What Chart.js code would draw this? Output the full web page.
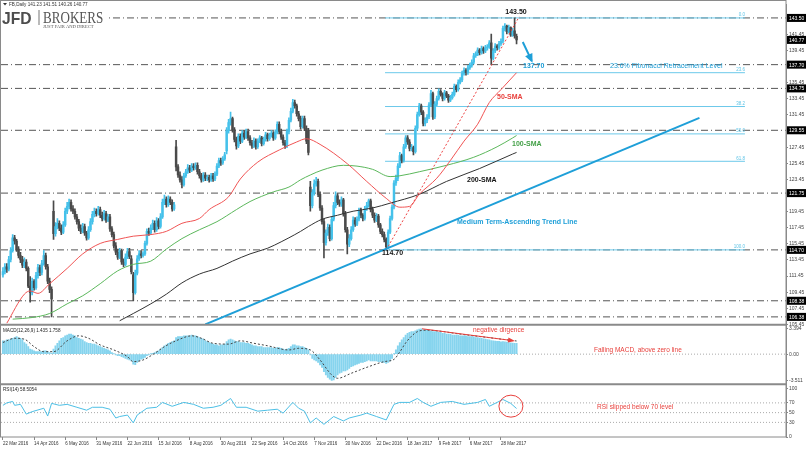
<!DOCTYPE html>
<html>
<head>
<meta charset="utf-8">
<script src="https://cdn.jsdelivr.net/npm/chart.js@4.4.1/dist/chart.umd.min.js"></script>
<style>
  html, body { margin: 0; padding: 0; background: #fff; }
  canvas { display: block; }
</style>
</head>
<body>
<canvas id="chart" width="806" height="450"></canvas>
<script>
// FB daily bars, index 0 = 22 Mar 2016 ... 264 = 7 Apr 2017
const dateLabels = ['22 Mar 2016', '14 Apr 2016', '6 May 2016', '31 May 2016', '22 Jun 2016', '15 Jul 2016',
  '8 Aug 2016', '30 Aug 2016', '22 Sep 2016', '14 Oct 2016', '7 Nov 2016', '30 Nov 2016', '22 Dec 2016',
  '18 Jan 2017', '9 Feb 2017', '6 Mar 2017', '28 Mar 2017'];

const opens = [
  111.6,112.0,112.6,112.3,113.5,114.6,116.2,115.8,114.8,114.0,
  113.5,112.8,113.2,112.4,110.2,109.4,110.8,110.0,111.5,112.5,
  111.9,113.0,114.0,112.6,110.8,109.8,119.5,116.7,117.6,118.0,
  117.4,116.9,117.8,119.5,120.1,120.6,119.8,119.5,118.8,118.2,
  117.4,117.0,117.6,116.8,116.2,117.2,118.2,119.1,119.5,119.2,
  119.7,119.0,118.6,119.2,118.4,118.8,117.3,116.6,115.2,114.4,
  113.8,114.6,113.2,112.9,113.8,114.5,113.6,111.6,109.4,111.8,
  113.6,114.2,114.0,114.2,115.5,117.0,116.8,117.4,118.0,117.2,
  118.3,117.6,118.8,120.6,121.0,120.3,121.0,120.6,119.8,127.5,
  125.0,124.0,123.4,122.8,123.9,124.4,124.9,124.6,125.1,124.9,
  125.2,124.4,123.9,123.4,124.0,123.6,123.7,123.4,123.9,123.5,
  124.1,125.1,125.8,125.5,126.0,127.0,129.5,130.5,131.0,129.6,
  128.4,127.6,128.8,128.2,129.2,128.7,129.4,128.6,128.0,127.6,
  128.2,127.5,128.2,128.6,127.9,128.4,129.0,128.5,128.9,129.2,
  128.6,129.3,130.3,129.4,128.7,128.0,127.7,129.4,130.8,131.9,
  133.0,132.6,131.6,131.0,130.0,131.0,129.8,129.5,122.5,120.2,
  121.8,122.9,123.2,121.6,119.9,118.2,115.6,116.8,117.5,116.1,
  118.5,120.2,121.4,120.6,120.4,120.9,119.2,117.2,115.4,116.1,
  117.2,118.4,117.9,118.5,119.6,119.0,118.6,119.8,120.2,120.8,
  119.7,119.0,118.4,118.9,117.8,117.0,116.6,116.0,115.1,116.9,
  118.6,120.0,123.0,123.6,125.1,126.4,125.8,127.5,128.6,128.1,
  127.3,127.4,126.9,129.8,131.5,132.6,131.8,130.4,130.8,131.2,
  132.7,134.1,131.2,132.8,133.5,134.4,134.0,133.5,134.2,133.8,
  133.3,133.6,134.0,135.0,134.6,135.5,135.8,136.6,137.0,136.7,
  137.3,137.6,138.0,138.8,139.0,139.5,139.2,139.7,139.4,139.8,
  139.9,140.4,138.5,139.4,140.0,139.8,140.3,140.6,142.2,142.5,
  141.8,142.3,141.4,141.9,141.23
];
const highs = [
  112.5,113.0,113.0,113.9,115.0,116.6,116.5,116.0,115.1,114.4,
  113.9,113.7,113.5,112.6,111.4,111.2,111.0,111.9,112.9,112.8,
  113.4,114.6,114.3,112.9,111.2,110.1,120.8,118.1,118.6,118.3,
  117.8,118.2,119.9,120.6,121.0,120.9,120.2,119.8,119.1,118.5,
  117.8,118.0,117.9,117.0,117.6,118.6,119.5,119.9,119.8,120.1,
  120.0,119.4,119.6,119.5,119.1,119.1,117.6,116.9,115.6,114.8,
  114.9,114.8,113.6,114.2,114.9,114.9,114.0,111.9,112.2,114.0,
  114.6,114.6,114.5,115.8,117.3,117.4,117.8,118.4,118.3,118.7,
  118.6,119.2,121.0,121.5,121.3,121.4,121.3,120.9,120.6,128.3,
  125.3,124.4,123.8,124.2,124.7,125.3,125.2,125.4,125.4,125.5,
  125.5,124.7,124.2,124.3,124.3,124.0,124.0,124.2,124.2,124.4,
  125.4,126.1,126.1,126.3,126.8,129.9,130.9,131.8,131.2,129.9,
  128.7,129.1,129.1,129.5,129.5,129.7,129.7,128.9,128.3,128.6,
  128.5,128.5,128.9,128.8,128.7,129.3,129.2,129.2,129.5,129.4,
  129.6,130.6,130.6,129.7,129.0,128.3,129.7,131.1,132.3,133.4,
  133.3,132.8,131.9,131.3,131.3,131.3,130.1,129.8,123.2,122.2,
  123.4,123.7,123.5,121.9,120.2,118.5,117.2,117.9,117.8,118.8,
  120.6,121.9,121.7,120.9,121.3,121.1,119.5,117.5,116.6,117.6,
  118.8,118.7,118.8,119.9,119.9,119.2,120.1,120.6,121.0,121.0,
  120.0,119.3,119.2,119.1,118.0,117.3,116.9,116.2,117.2,118.9,
  120.3,123.3,124.0,125.4,126.8,126.6,127.8,128.9,128.9,128.4,
  127.8,127.6,130.1,131.8,132.9,132.8,132.0,131.1,131.5,133.0,
  134.5,134.3,133.1,133.8,134.7,134.6,134.2,134.5,134.4,134.0,
  133.9,134.3,135.3,135.2,135.8,136.1,136.9,137.3,137.2,137.6,
  137.9,138.3,139.1,139.3,139.8,139.7,140.0,139.9,140.1,140.2,
  140.7,141.5,139.7,140.3,140.2,140.6,140.9,142.5,142.8,142.6,
  142.6,142.4,142.2,143.5,141.51
];
const lows = [
  111.3,111.7,111.9,112.1,113.2,114.4,115.4,114.5,113.7,113.1,
  112.5,112.5,112.1,110.0,108.2,109.1,109.7,109.8,111.2,111.5,
  111.6,112.8,112.3,110.5,109.4,106.38,116.0,116.4,117.3,117.1,
  116.6,116.7,117.6,119.2,119.8,119.5,119.2,118.5,117.9,117.1,
  116.7,116.8,116.5,115.9,116.0,117.0,117.9,118.8,118.9,119.0,
  118.7,118.3,118.4,118.1,118.2,117.0,116.3,114.9,114.1,113.5,
  113.6,112.9,112.6,112.7,113.6,113.6,111.7,108.38,109.2,111.6,
  113.4,113.7,113.8,114.0,115.3,116.5,116.6,117.2,116.9,117.0,
  117.3,117.4,118.6,120.3,120.0,120.1,120.3,119.5,119.6,124.5,
  123.7,123.1,122.4,122.6,123.7,124.2,124.3,124.4,124.6,124.7,
  124.1,123.6,123.1,123.2,123.3,123.3,123.1,123.2,123.2,123.3,
  123.9,124.9,125.2,125.3,125.8,126.6,129.2,130.2,129.3,128.1,
  127.2,127.4,127.9,128.0,128.4,128.5,128.3,127.7,127.3,127.4,
  127.2,127.3,128.0,127.6,127.7,128.2,128.2,128.3,128.7,128.3,
  128.4,129.1,129.1,128.4,127.7,127.3,127.4,129.1,130.6,131.7,
  132.3,131.3,130.7,129.7,129.8,129.5,127.9,126.5,119.5,119.9,
  121.5,122.6,121.3,119.6,117.9,113.7,115.3,116.5,115.8,115.9,
  118.3,119.9,120.3,120.1,120.1,118.9,116.9,114.2,115.1,115.9,
  117.0,117.6,117.7,118.3,118.7,118.3,118.4,119.6,120.0,119.4,
  118.7,118.1,118.2,117.5,116.7,116.3,115.7,114.7,114.9,116.7,
  118.4,119.8,122.7,123.3,124.9,125.5,125.6,127.3,127.8,127.0,
  127.0,126.5,126.7,129.6,131.3,131.5,130.1,130.1,130.5,131.0,
  132.5,130.9,131.0,132.6,133.3,133.8,133.2,133.3,133.6,133.0,
  133.1,133.4,133.8,134.3,134.4,135.3,135.6,136.4,136.4,136.5,
  137.1,137.4,137.8,138.6,138.8,138.9,139.0,139.1,139.2,139.5,
  139.7,137.7,138.3,139.2,139.5,139.6,140.1,140.4,141.9,141.5,
  141.6,141.2,141.2,141.0,140.26
];
const closes = [
  112.0,112.6,112.3,113.5,114.6,116.2,115.8,114.8,114.0,113.5,
  112.8,113.2,112.4,110.2,109.4,110.8,110.0,111.5,112.5,111.9,
  113.0,114.0,112.6,110.8,109.8,108.6,116.7,117.6,118.0,117.4,
  116.9,117.8,119.5,120.1,120.6,119.8,119.5,118.8,118.2,117.4,
  117.0,117.6,116.8,116.2,117.2,118.2,119.1,119.5,119.2,119.7,
  119.0,118.6,119.2,118.4,118.8,117.3,116.6,115.2,114.4,113.8,
  114.6,113.2,112.9,113.8,114.5,113.9,112.0,109.4,111.8,113.6,
  114.2,114.0,114.2,115.5,117.0,116.8,117.4,118.0,117.2,118.3,
  117.6,118.8,120.6,121.0,120.3,121.0,120.6,119.8,120.3,125.0,
  124.0,123.4,122.8,123.9,124.4,124.9,124.6,125.1,124.9,125.2,
  124.4,123.9,123.4,124.0,123.6,123.7,123.4,123.9,123.5,124.1,
  125.1,125.8,125.5,126.0,126.5,129.5,130.5,131.0,129.6,128.4,
  127.6,128.8,128.2,129.2,128.7,129.4,128.6,128.0,127.6,128.2,
  127.5,128.2,128.6,127.9,128.4,129.0,128.5,128.9,129.2,128.6,
  129.3,130.3,129.4,128.7,128.0,127.7,129.4,130.8,131.9,133.0,
  132.6,131.6,131.0,130.0,131.0,129.8,128.2,126.8,120.2,121.8,
  122.9,123.2,121.6,119.9,118.2,115.6,116.8,117.5,116.1,118.5,
  120.2,121.4,120.6,120.4,120.9,119.2,117.2,115.4,116.1,117.2,
  118.4,117.9,118.5,119.6,119.0,118.6,119.8,120.2,120.8,119.7,
  119.0,118.4,118.9,117.8,117.0,116.6,116.0,115.1,116.9,118.6,
  120.0,123.0,123.6,125.1,126.4,125.8,127.5,128.6,128.1,127.3,
  127.4,126.9,129.8,131.5,132.6,131.8,130.4,130.8,131.2,132.7,
  134.1,131.2,132.8,133.5,134.4,134.0,133.5,134.2,133.8,133.3,
  133.6,134.0,135.0,134.6,135.5,135.8,136.6,137.0,136.7,137.3,
  137.6,138.0,138.8,139.0,139.5,139.2,139.7,139.4,139.8,139.9,
  140.4,138.5,139.4,140.0,139.8,140.3,140.6,142.2,142.5,141.8,
  142.3,141.4,141.9,141.3,140.77
];

// moving averages: [bar index, price]
const sma50 = [[2,105.6],[11,109.2],[14,109.6],[18,109.3],[24,110.5],[33,112.4],[41,114.2],[50,115.5],[59,116.0],
  [67,116.4],[76,116.6],[84,117.0],[92,118.0],[101,118.6],[106,119.7],[116,121.3],[122,123.5],[131,125.6],
  [142,127.1],[151,128.1],[156,128.5],[163,127.8],[177,125.4],[187,123.2],[197,121.1],[204,120.0],[209,120.1],
  [214,121.6],[223,123.6],[230,125.8],[237,128.2],[244,130.3],[250,133.0],[256,134.6],[264,136.7]];
const sma100 = [[5,106.1],[15,106.3],[24,106.8],[33,108.0],[41,109.0],[50,110.5],[59,112.1],[67,112.9],[76,113.3],
  [84,114.8],[92,116.1],[101,117.2],[110,118.2],[120,119.7],[127,120.7],[139,121.9],[147,122.5],[153,123.4],
  [158,124.0],[164,124.6],[175,125.2],[182,125.1],[190,124.7],[199,123.8],[204,123.9],[214,124.4],[228,125.2],
  [242,126.2],[254,127.5],[262,128.6],[264,128.9]];
const sma200 = [[60,105.9],[67,106.8],[76,108.0],[84,109.2],[92,110.6],[101,111.7],[110,112.4],[118,113.3],
  [127,114.2],[136,114.9],[143,115.7],[147,116.2],[153,117.0],[157,117.6],[164,118.5],[172,119.0],[180,119.5],
  [190,119.9],[199,120.5],[214,121.6],[228,123.2],[245,124.8],[262,126.6],[264,126.8]];

// MACD(12,26,9): histogram per bar, signal read at turning points
const macdHist = [
  1.78,1.78,1.90,1.90,2.01,2.12,2.23,2.34,2.23,2.12,
  1.90,1.56,1.34,1.00,0.67,0.56,0.45,0.33,0.33,0.33,
  0.33,0.45,0.45,0.33,0.22,0.11,0.67,1.12,1.45,1.78,
  2.12,2.23,2.45,2.56,2.68,2.68,2.56,2.45,2.23,2.12,
  2.01,1.90,1.67,1.56,1.45,1.45,1.34,1.34,1.23,1.12,
  1.00,0.89,0.78,0.67,0.56,0.45,0.22,0.02,-0.11,-0.22,
  -0.22,-0.33,-0.45,-0.56,-0.67,-0.78,-0.89,-1.34,-1.40,-1.12,
  -0.89,-0.67,-0.56,-0.45,-0.22,-0.11,0.02,0.11,0.22,0.33,
  0.45,0.67,0.89,1.12,1.23,1.45,1.56,1.67,1.78,2.23,
  2.34,2.34,2.34,2.45,2.45,2.45,2.45,2.56,2.45,2.45,
  2.34,2.23,2.12,2.01,1.78,1.67,1.56,1.45,1.34,1.23,
  1.23,1.12,1.23,1.23,1.34,1.67,1.90,2.01,1.90,1.78,
  1.67,1.67,1.56,1.56,1.56,1.45,1.45,1.34,1.23,1.12,
  1.12,1.00,1.00,1.00,0.89,0.89,0.89,0.89,0.89,0.78,
  0.78,0.89,0.89,0.78,0.67,0.56,0.67,0.78,1.00,1.23,
  1.23,1.12,1.12,1.00,1.00,0.89,0.78,0.56,-0.11,-0.56,
  -0.78,-0.89,-1.12,-1.45,-1.78,-2.34,-2.79,-3.12,-3.35,-3.511,
  -3.46,-3.12,-2.79,-2.56,-2.45,-2.23,-2.23,-2.12,-1.90,-1.67,
  -1.56,-1.45,-1.34,-1.23,-1.12,-1.12,-1.00,-0.89,-0.78,-0.89,
  -0.89,-0.89,-0.89,-1.00,-1.00,-1.12,-1.12,-1.23,-1.12,-0.89,
  -0.56,0.02,0.56,1.12,1.56,1.90,2.23,2.56,2.79,2.90,
  3.01,3.01,3.12,3.24,3.35,3.394,3.24,3.24,3.24,3.12,
  3.12,3.01,3.01,3.01,2.90,2.90,2.79,2.79,2.68,2.68,
  2.68,2.56,2.56,2.56,2.56,2.45,2.45,2.45,2.45,2.34,
  2.34,2.34,2.30,2.23,2.20,2.16,2.12,2.05,2.00,1.96,
  1.90,1.80,1.78,1.75,1.72,1.70,1.66,1.68,1.66,1.60,
  1.56,1.52,1.48,1.46,1.435
];
const macdSignal = [[0,1.56],[6,2.12],[11,2.0],[16,1.0],[21,0.33],[26,0.33],[33,1.78],[39,2.45],[44,2.12],
  [50,1.23],[57,0.56],[64,-0.33],[67,-1.0],[72,-0.78],[78,0.11],[83,1.0],[90,1.9],[97,2.45],[102,2.12],
  [108,1.45],[116,1.34],[122,1.78],[129,1.45],[136,1.12],[147,0.56],[152,0.78],[158,0.56],[163,-0.78],
  [169,-2.79],[172,-3.23],[179,-2.56],[188,-1.67],[196,-1.0],[201,-0.7],[204,0.3],[207,1.5],[210,2.4],
  [213,3.0],[217,3.2],[222,3.15],[235,2.68],[250,2.2],[264,1.758]];

// RSI(14)
const rsi = [[0,65],[2,70],[5,73],[6,65],[9,67],[12,47],[15,52],[21,59],[23,43],[25,69],[29,65],[33,67],
  [38,61],[43,55],[46,61],[51,61],[55,57],[58,39],[60,42],[64,45],[67,29],[69,45],[74,59],[79,61],[82,71],
  [87,63],[93,71],[98,67],[103,59],[108,61],[112,65],[117,79],[120,61],[125,61],[131,53],[136,55],[141,57],
  [144,49],[149,71],[152,59],[155,53],[158,29],[161,39],[165,26],[170,42],[175,33],[178,39],[184,45],
  [187,49],[192,42],[197,35],[201,67],[204,71],[209,71],[213,79],[216,71],[220,63],[225,71],[231,73],
  [237,67],[244,71],[248,77],[250,63],[254,71],[257,77],[261,69],[264,58.5]];
const rsiLevels = [70, 50, 30];

// horizontal levels, fibonacci retracement of 114.70 -> 143.50
const levelLines = [143.50, 137.70, 134.75, 129.55, 121.75, 114.70, 108.38, 106.38];
const priceTags = [143.50, 140.77, 137.70, 134.75, 129.55, 121.75, 114.70, 108.38, 106.38];
const fibLevels = [143.50, 136.70, 132.50, 129.10, 125.70, 114.70];
const fibNames = ['0.0', '23.6', '38.2', '50.0', '61.8', '100.0'];
const fibSpan = [196.4, 381.4];

// drawn objects: [bar index, value]
const trendLine = [[104, 105.45], [358, 131.1]];
const swingLine = [[197, 114.7], [265.3, 143.63]];
const pullbackArrow = [[267.2, 140.51], [271.8, 138.16]];
const divergenceArrow = [[215.4, 3.39], [262.2, 1.80]];
const rsiCircle = [261.1, 63.3];

// axis ticks
const priceTicks = [105.45, 107.45, 109.45, 111.45, 113.45, 115.45, 117.45, 119.45, 121.45, 123.45,
  125.45, 127.45, 129.45, 131.45, 133.45, 135.45, 137.45, 139.45, 141.45, 143.45];
const macdTicks = [3.394, 0, -3.511];
const rsiTicks = [100, 70, 50, 30, 0];

const FONT = '"Liberation Sans", Arial, sans-serif';
const UP = '#45c1ea', DOWN = '#4a4a4a';
const BLUE = '#1e9fd8', RED = '#e8403c';

// text annotations (pixel anchors)
const notes = [
  { t: '143.50', x: 516, y: 12, c: '#111', b: true, s: 7, a: 'center' },
  { t: '137.70', x: 523, y: 66, c: BLUE, b: true, s: 7 },
  { t: '23.6% Fibonacci Retracement Level', x: 610, y: 66, c: BLUE, s: 7 },
  { t: '50-SMA', x: 497, y: 97, c: RED, b: true, s: 7 },
  { t: '100-SMA', x: 512, y: 144, c: '#43a047', b: true, s: 7 },
  { t: '200-SMA', x: 467, y: 180, c: '#111', b: true, s: 7 },
  { t: 'Medium Term-Ascending Trend Line', x: 457, y: 222, c: BLUE, b: true, s: 7 },
  { t: '114.70', x: 382, y: 253, c: '#111', b: true, s: 7 },
  { t: 'negative dirgence', x: 473, y: 330, c: RED, s: 6.5 },
  { t: 'Falling MACD, above zero line', x: 594, y: 350, c: RED, s: 6.5 },
  { t: 'RSI slipped below 70 level', x: 597, y: 407, c: RED, s: 6.5 }
];

Chart.defaults.font.family = FONT;

const candleColors = closes.map((c, i) => c >= opens[i] ? UP : DOWN);

function lineSet(points, color, extra) {
  return Object.assign({
    type: 'line',
    data: points.map(([x, y]) => ({ x, y })),
    borderColor: color,
    borderWidth: 1,
    pointRadius: 0,
    fill: false,
    yAxisID: 'y'
  }, extra);
}

function arrowHead(c, p0, p1, len, wid, color) {
  const ang = Math.atan2(p1[1] - p0[1], p1[0] - p0[0]);
  c.save();
  c.translate(p1[0], p1[1]);
  c.rotate(ang);
  c.beginPath();
  c.moveTo(2, 0);
  c.lineTo(-len, -wid);
  c.lineTo(-len, wid);
  c.closePath();
  c.fillStyle = color;
  c.fill();
  c.restore();
}

const decor = {
  id: 'decor',
  beforeDraw(chart) {
    const c = chart.ctx;
    c.save();
    c.fillStyle = '#fff';
    c.fillRect(0, 0, chart.width, chart.height);
    c.restore();
  },
  afterDraw(chart) {
    const c = chart.ctx, a = chart.chartArea, s = chart.scales;
    const px = v => s.x.getPixelForValue(v);
    c.save();

    // frame + panel separators
    c.strokeStyle = '#8a8a8a';
    c.lineWidth = 1;
    c.strokeRect(0.5, 0.5, a.right - 0.5, a.bottom - 0.5);
    c.lineWidth = 2;
    for (const t of [s.yMacd.top, s.yRsi.top]) {
      c.beginPath(); c.moveTo(0, t); c.lineTo(a.right, t); c.stroke();
    }

    // fibonacci level names
    c.font = '4.5px ' + FONT;
    c.fillStyle = '#5cc3e6';
    c.textAlign = 'right';
    c.textBaseline = 'bottom';
    fibLevels.forEach((v, k) => c.fillText(fibNames[k], px(fibSpan[1]), s.y.getPixelForValue(v) - 0.5));

    // black price tags on the axis
    c.font = '5px ' + FONT;
    c.textAlign = 'left';
    c.textBaseline = 'middle';
    for (const v of priceTags) {
      const y = s.y.getPixelForValue(v);
      c.fillStyle = '#000';
      c.fillRect(a.right + 1, y - 4, chart.width - a.right - 1, 8);
      c.fillStyle = '#fff';
      c.fillText(v.toFixed(2), a.right + 3, y + 0.5);
    }

    // arrow heads
    const toPx = (p, sc) => [px(p[0]), sc.getPixelForValue(p[1])];
    arrowHead(c, toPx(pullbackArrow[0], s.y), toPx(pullbackArrow[1], s.y), 7, 4, BLUE);
    arrowHead(c, toPx(divergenceArrow[0], s.yMacd), toPx(divergenceArrow[1], s.yMacd), 5, 2.5, RED);

    // circle on RSI
    c.strokeStyle = RED;
    c.lineWidth = 1;
    c.beginPath();
    c.ellipse(px(rsiCircle[0]), s.yRsi.getPixelForValue(rsiCircle[1]), 12, 11, 0, 0, Math.PI * 2);
    c.stroke();

    // annotations
    c.textBaseline = 'middle';
    for (const n of notes) {
      c.font = (n.b ? 'bold ' : '') + n.s + 'px ' + FONT;
      c.fillStyle = n.c;
      c.textAlign = n.a || 'left';
      c.fillText(n.t, n.x, n.y);
    }

    // panel titles
    c.font = '4.6px ' + FONT;
    c.fillStyle = '#222';
    c.textAlign = 'left';
    c.fillText('MACD(12,26,9) 1.435 1.758', 3, s.yMacd.top + 6);
    c.fillText('RSI(14) 58.5054', 3, s.yRsi.top + 5.5);

    // header line
    c.beginPath();
    c.moveTo(3, 3); c.lineTo(7, 3); c.lineTo(5, 5.5); c.closePath();
    c.fillStyle = '#333';
    c.fill();
    c.fillText('FB,Daily 141.23 141.51 140.26 140.77', 9, 4.5);

    // logo
    c.fillStyle = '#fff';
    c.fillRect(1, 7, 106, 22);
    c.textBaseline = 'alphabetic';
    c.fillStyle = '#4d4d4d';
    c.font = 'bold 17px ' + FONT;
    c.save(); c.translate(2, 24); c.scale(0.92, 1); c.fillText('JFD', 0, 0); c.restore();
    c.fillStyle = '#777';
    c.fillRect(38.5, 10, 1, 15);
    c.fillStyle = '#555';
    c.font = '17px "Liberation Serif", serif';
    c.save(); c.translate(43, 23); c.scale(0.77, 1); c.fillText('BROKERS', 0, 0); c.restore();
    c.font = '4.6px "Liberation Serif", serif';
    c.fillText('JUST FAIR AND DIRECT', 43, 28);

    c.restore();
  }
};

const datasets = [];

levelLines.forEach(v => datasets.push(lineSet([[-1, v], [402.5, v]], '#555', { borderDash: [7, 3, 1, 3], order: 20 })));
fibLevels.forEach(v => datasets.push(lineSet([[fibSpan[0], v], [fibSpan[1], v]], '#6cc9ea', { order: 19 })));

datasets.push({
  type: 'bar', yAxisID: 'y', order: 15, grouped: false,
  data: highs.map((h, i) => ({ x: i, y: [lows[i], h] })),
  backgroundColor: candleColors, barThickness: 1
});
datasets.push({
  type: 'bar', yAxisID: 'y', order: 14, grouped: false,
  data: opens.map((o, i) => ({ x: i, y: [Math.min(o, closes[i]), Math.max(o, closes[i])] })),
  backgroundColor: candleColors, barThickness: 1.8, minBarLength: 1
});

datasets.push(lineSet(sma50, '#f05454', { order: 10, cubicInterpolationMode: 'monotone' }));
datasets.push(lineSet(sma100, '#5cb85c', { order: 10, cubicInterpolationMode: 'monotone' }));
datasets.push(lineSet(sma200, '#333', { order: 10, cubicInterpolationMode: 'monotone' }));
datasets.push(lineSet(swingLine, '#ee4444', { borderDash: [2, 2], order: 4 }));
datasets.push(lineSet(trendLine, BLUE, { borderWidth: 2, order: 3 }));
datasets.push(lineSet(pullbackArrow, BLUE, { borderWidth: 2, order: 3 }));

// MACD pane
datasets.push(lineSet([[-1, 0], [402.5, 0]], '#aaa', { yAxisID: 'yMacd', borderDash: [1, 2], order: 16 }));
datasets.push({
  type: 'bar', yAxisID: 'yMacd', order: 15, grouped: false,
  data: macdHist.map((v, i) => ({ x: i, y: v })),
  backgroundColor: '#86d4ee', barThickness: 1.3
});
datasets.push(lineSet(macdSignal, '#444', { yAxisID: 'yMacd', borderDash: [2, 2], order: 10, cubicInterpolationMode: 'monotone' }));
datasets.push(lineSet(divergenceArrow, RED, { yAxisID: 'yMacd', order: 5 }));

// RSI pane
rsiLevels.forEach(v => datasets.push(lineSet([[-1, v], [402.5, v]], '#aaa', { yAxisID: 'yRsi', borderDash: [1, 2], order: 16 })));
datasets.push(lineSet(rsi, '#4dc0e6', { yAxisID: 'yRsi', order: 10 }));

const axisFont = { size: 5, family: FONT };

new Chart(document.getElementById('chart'), {
  type: 'line',
  data: { datasets },
  plugins: [decor],
  options: {
    responsive: false,
    animation: false,
    events: [],
    layout: { padding: { left: 1, top: 1, right: 0, bottom: 0 } },
    plugins: { legend: { display: false }, tooltip: { enabled: false } },
    scales: {
      x: {
        type: 'linear', min: -1, max: 402.5, offset: false,
        afterBuildTicks: sc => { sc.ticks = dateLabels.map((_, k) => ({ value: k * 16 })); },
        afterFit: sc => { sc.height = 13; },
        ticks: { align: 'start', autoSkip: false, maxRotation: 0, padding: 1, color: '#333',
          font: { size: 4.5, family: FONT }, callback: v => dateLabels[v / 16] },
        grid: { drawOnChartArea: false, tickLength: 3, color: '#888', offset: false },
        border: { display: false }
      },
      y: {
        type: 'linear', position: 'right', stack: 'panes', stackWeight: 323,
        min: 105.40, max: 145.23,
        afterBuildTicks: sc => { sc.ticks = priceTicks.map(v => ({ value: v })); },
        afterFit: sc => { sc.width = 20; },
        ticks: { autoSkip: false, padding: 1, color: '#444', font: axisFont, callback: v => v.toFixed(2) },
        grid: { drawOnChartArea: false, tickLength: 2, color: '#888' },
        border: { color: '#8a8a8a' }
      },
      yMacd: {
        type: 'linear', position: 'right', stack: 'panes', stackWeight: 60,
        min: -4.04, max: 3.925,
        afterBuildTicks: sc => { sc.ticks = macdTicks.map(v => ({ value: v })); },
        afterFit: sc => { sc.width = 20; },
        ticks: { autoSkip: false, padding: 1, color: '#444', font: axisFont, callback: v => v === 0 ? '0.00' : String(v) },
        grid: { drawOnChartArea: false, tickLength: 2, color: '#888' },
        border: { color: '#8a8a8a' }
      },
      yRsi: {
        type: 'linear', position: 'right', stack: 'panes', stackWeight: 53,
        min: 0, max: 108,
        afterBuildTicks: sc => { sc.ticks = rsiTicks.map(v => ({ value: v })); },
        afterFit: sc => { sc.width = 20; },
        ticks: { autoSkip: false, padding: 1, color: '#444', font: axisFont, callback: v => String(v) },
        grid: { drawOnChartArea: false, tickLength: 2, color: '#888' },
        border: { color: '#8a8a8a' }
      }
    }
  }
});
</script>
</body>
</html>
